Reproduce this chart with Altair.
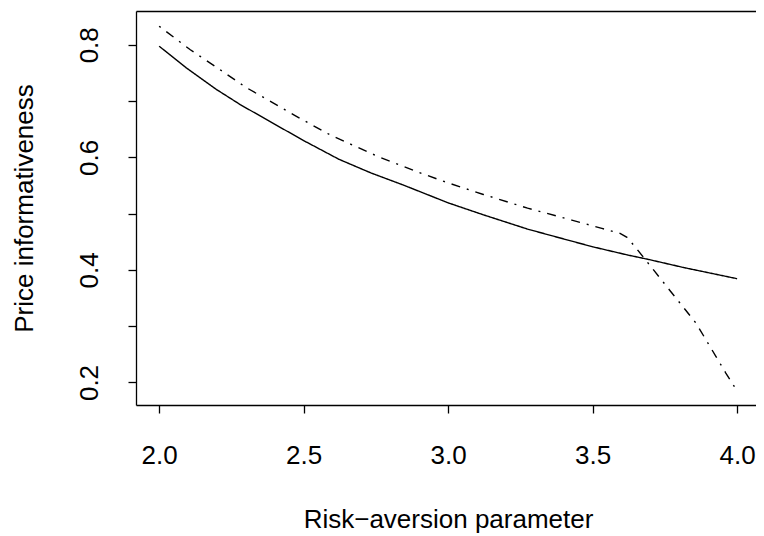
import altair as alt
import pandas as pd

# Solid curve
risk_solid = [2.0, 2.094, 2.198, 2.281, 2.413, 2.5, 2.622, 2.733, 2.844, 3.0,
              3.122, 3.275, 3.372, 3.5, 3.622, 3.692, 3.817, 4.0]
info_solid = [0.7975, 0.759, 0.7207, 0.6936, 0.6551, 0.6298, 0.5966, 0.5723, 0.551, 0.5192,
              0.4979, 0.4725, 0.4589, 0.4411, 0.4264, 0.4188, 0.404, 0.3844]

# Dash-dot curve
risk_dash = [2.0, 2.108, 2.198, 2.302, 2.469, 2.594, 2.761, 2.9, 3.0, 3.122, 3.275,
             3.428, 3.532, 3.595, 3.619, 3.642, 3.683, 3.766, 3.858, 3.927, 3.961, 4.0]
info_dash = [0.833, 0.7911, 0.7603, 0.7238, 0.6746, 0.6392, 0.6007, 0.573, 0.5546, 0.534, 0.5098,
             0.4885, 0.4738, 0.4649, 0.4578, 0.4441, 0.418, 0.3644, 0.3053, 0.246, 0.2167, 0.185]

x_ticks = [2.0, 2.5, 3.0, 3.5, 4.0]
y_ticks = [0.2, 0.3, 0.4, 0.5, 0.6, 0.7, 0.8]

df = pd.concat([
    pd.DataFrame({"risk": risk_solid, "info": info_solid, "series": "solid"}),
    pd.DataFrame({"risk": risk_dash, "info": info_dash, "series": "dashdot"}),
])

FONT = "Liberation Sans"
x_scale = alt.Scale(domain=[1.92, 4.0654], nice=False, zero=False)
y_scale = alt.Scale(domain=[0.16, 0.86], nice=False, zero=False)

base = alt.Chart(df)

lines = base.mark_line(color="black", strokeWidth=1.4).encode(
    x=alt.X("risk:Q", scale=x_scale,
            axis=alt.Axis(values=x_ticks, format=".1f", title="Risk\u2212aversion parameter",
                          orient="bottom", tickSize=8, labelPadding=50,
                          labelBaseline="alphabetic", labelAlign="center",
                          labelFlush=False, labelOverlap=False,
                          titleX=312, titleY=122, titleBaseline="alphabetic",
                          titleAlign="center", titleAngle=0)),
    y=alt.Y("info:Q", scale=y_scale,
            axis=alt.Axis(values=y_ticks, title="Price informativeness",
                          labelExpr="abs(round(datum.value*10)) % 2 == 0 ? format(datum.value, '.1f') : ''",
                          orient="left", tickSize=8, labelPadding=31, labelAngle=270,
                          labelAlign="center", labelBaseline="alphabetic",
                          labelFlush=False, labelOverlap=False,
                          titleX=-104, titleY=197, titleAngle=270,
                          titleAlign="center", titleBaseline="alphabetic")),
    strokeDash=alt.StrokeDash("series:N",
                              scale=alt.Scale(domain=["solid", "dashdot"],
                                              range=[[1, 0], [2, 7, 9, 7]]),
                              legend=None),
)

top = base.mark_line(opacity=0).encode(
    x=alt.X("risk:Q", scale=x_scale,
            axis=alt.Axis(orient="top", labels=False, ticks=False, title=None, domain=True)),
    y=alt.Y("info:Q", scale=y_scale, axis=None),
    detail="series:N",
)

chart = alt.layer(lines, top).resolve_axis(
    x="independent", y="independent"
).properties(
    width=620, height=394,
    autosize=alt.AutoSizeParams(type="none"),
    padding={"left": 128, "top": 3, "right": 0, "bottom": 129},
).configure_view(stroke=None).configure_axis(
    grid=False, labelFont=FONT, titleFont=FONT, labelFontSize=26, titleFontSize=26,
    labelColor="black", titleColor="black", domainColor="black", tickColor="black",
    domainWidth=1.3, tickWidth=1.3, titleFontWeight="normal",
)

chart.save("out.html", embed_options={"renderer": "svg", "actions": False})
